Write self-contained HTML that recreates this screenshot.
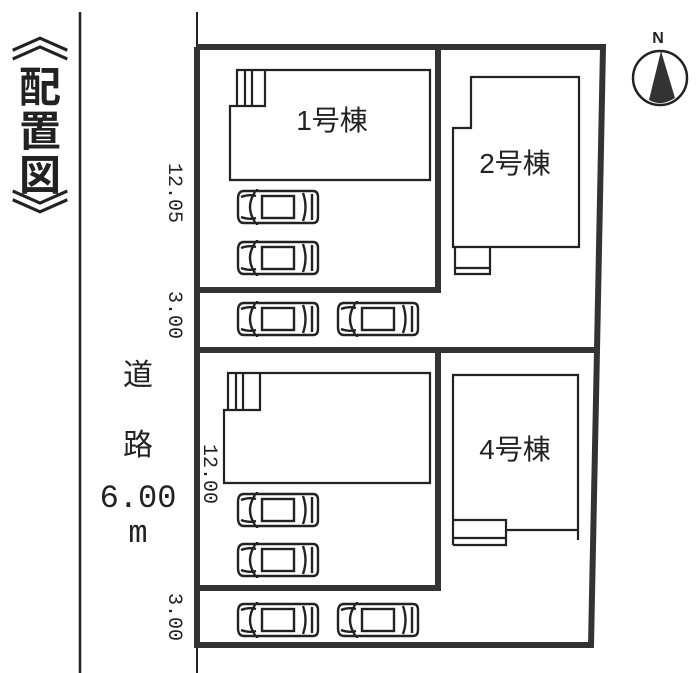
<!DOCTYPE html>
<html><head><meta charset="utf-8"><style>
html,body{margin:0;padding:0;background:#fff;}
svg{display:block;}
text{fill:#222;}
.s{font-family:"Liberation Sans","Noto Sans CJK JP",sans-serif;}
.m{font-family:"Liberation Mono","Noto Sans CJK JP",monospace;}
.j{font-family:"Noto Sans CJK JP",sans-serif;}
</style></head><body>
<svg width="696" height="673" viewBox="0 0 696 673" xmlns="http://www.w3.org/2000/svg">
<defs>
<g id="car" fill="none" stroke="#222" stroke-width="2.4">
<path d="M7,2 H76 Q81,2 81,8 V28 Q81,34 76,34 H7 Q1,34 1,26 V10 Q1,2 7,2 Z"/>
<path d="M18,3 Q8,18 18,33"/>
<path d="M4,8 Q12,5 19,7 M4,28 Q12,31 19,29"/>
<rect x="25" y="7" width="32" height="22"/>
<path d="M66,4 Q71,18 66,32 M75,5 V31"/>
<path d="M20,0 L20,3 M20,36 L20,33"/>
</g>
</defs>
<line x1="80" y1="12" x2="80" y2="673" stroke="#222" stroke-width="2.5"/>
<line x1="197" y1="12" x2="197" y2="673" stroke="#222" stroke-width="2"/>
<g fill="none" stroke="#333" stroke-width="6" stroke-linejoin="miter">
<path d="M197,47 H603 L597,350 L591,645 H197 V47"/>
<path d="M197,290 H438 V47"/>
<path d="M197,350 H597"/>
<path d="M197,588 H438 V350"/>
</g>
<g fill="none" stroke="#222" stroke-width="2.2">
<path d="M237,106 V70 H430 V180 H230 V106 H265 V71"/>
<path d="M245,71 V106 M252,71 V106"/>
<path d="M471,77 H579 V247 H453 V128 H471 Z"/>
<path d="M455,247 V274 H490 V247 M455,268 H490"/>
<path d="M228,410 V373 H430 V483 H224 V410 H260 V373"/>
<path d="M236,373 V410 M243,373 V410"/>
<path d="M453,545 V375 H578 V540"/>
<path d="M453,520 H506 V545 H453 M453,538 H506 M506,530 H578"/>
</g>
<use href="#car" x="237" y="189"/>
<use href="#car" x="237" y="240"/>
<use href="#car" x="237" y="301"/>
<use href="#car" x="337" y="301"/>
<use href="#car" x="237" y="492"/>
<use href="#car" x="237" y="542"/>
<use href="#car" x="237" y="602"/>
<use href="#car" x="337" y="602"/>
<text class="s" x="332" y="130" font-size="28" text-anchor="middle">1号棟</text>
<text class="s" x="515" y="173" font-size="28" text-anchor="middle">2号棟</text>
<text class="s" x="515" y="459" font-size="28" text-anchor="middle">4号棟</text>
<text class="s" x="138" y="385" font-size="30" text-anchor="middle">道</text>
<text class="s" x="138" y="455" font-size="30" text-anchor="middle">路</text>
<text class="m" x="138" y="507" font-size="32" text-anchor="middle">6.00</text>
<text class="m" x="138" y="542" font-size="32" text-anchor="middle">m</text>
<text class="m" font-size="20" text-anchor="middle" transform="translate(169,193) rotate(90)">12.05</text>
<text class="m" font-size="20" text-anchor="middle" transform="translate(169,315) rotate(90)">3.00</text>
<text class="m" font-size="20" text-anchor="middle" transform="translate(204,474) rotate(90)">12.00</text>
<text class="m" font-size="20" text-anchor="middle" transform="translate(169,617) rotate(90)">3.00</text>
<text class="j" font-size="46" text-anchor="middle" transform="translate(40,56) scale(1.3,1.2)">︽</text>
<text class="j" x="40" y="102" font-size="42" text-anchor="middle" font-weight="bold">配</text>
<text class="j" x="40" y="146" font-size="42" text-anchor="middle" font-weight="bold">置</text>
<text class="j" x="40" y="190" font-size="42" text-anchor="middle" font-weight="bold">図</text>
<text class="j" font-size="46" text-anchor="middle" transform="translate(40,236) scale(1.3,1.2)">︾</text>
<circle cx="660" cy="78" r="27" fill="none" stroke="#222" stroke-width="2.5"/>
<path d="M661,51 L649,100 Q661,107 675,98 Z" fill="#333"/>
<text class="s" x="658" y="43" font-size="16" font-weight="bold" text-anchor="middle">N</text>
</svg>
</body></html>
